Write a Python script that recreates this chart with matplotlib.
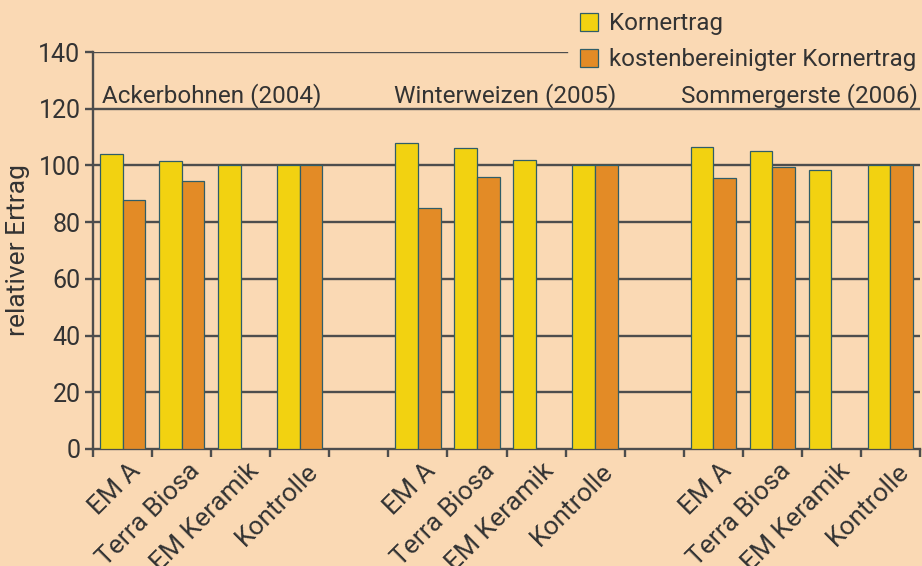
import matplotlib
matplotlib.use("Agg")
import matplotlib.pyplot as plt
from matplotlib.patches import Patch
import numpy as np

plt.rcParams["font.family"] = ["Roboto", "DejaVu Sans"]

groups = ["Ackerbohnen (2004)", "Winterweizen (2005)", "Sommergerste (2006)"]
treatments = ["EM A", "Terra Biosa", "EM Keramik", "Kontrolle"]
# Kornertrag per group (EM A, Terra Biosa, EM Keramik, Kontrolle)
korn = [
    [104.0, 101.7, 100.3, 100.0],
    [107.9, 106.1, 101.9, 100.0],
    [106.6, 105.2, 98.4, 100.0],
]
# kostenbereinigter Kornertrag (EM Keramik has none)
korn_kb = [
    [87.8, 94.4, None, 100.0],
    [85.0, 95.9, None, 100.0],
    [95.4, 99.3, None, 100.0],
]

bg = "#fad9b4"
yellow = "#f2d211"
orange = "#e38b26"
edge = "#2f5d68"
grey = "#4d4d4d"
txt = "#333333"

fig = plt.figure(figsize=(9.22, 5.66), dpi=100, facecolor=bg)
ax = fig.add_axes([93 / 922, 1 - 449 / 566, 827 / 922, 397 / 566], facecolor=bg)

w = 0.385
slot = 5  # 4 treatments + 1 gap slot per group
centers, labels = [], []
for g in range(len(groups)):
    for i, t in enumerate(treatments):
        c = g * slot + i + 0.5
        centers.append(c)
        labels.append(t)
        ax.bar(c - w / 2, korn[g][i], width=w, color=yellow, edgecolor=edge,
               linewidth=0.9, zorder=3)
        if korn_kb[g][i] is not None:
            ax.bar(c + w / 2, korn_kb[g][i], width=w, color=orange,
                   edgecolor=edge, linewidth=0.9, zorder=3)

# horizontal grid lines (top one is interrupted by the legend)
for yv in range(20, 140, 20):
    ax.axhline(yv, color=grey, lw=1.7, zorder=1)
ax.axhline(140, xmax=(567 - 93) / 827, color=grey, lw=1.7, zorder=1)

ax.set_xlim(0, 14)
ax.set_ylim(0, 140)
ax.set_yticks(range(0, 141, 20))
ax.set_xticks(range(0, 15))
ax.set_xticklabels([])
ax.set_xticks([c + 0.1 for c in centers], minor=True)
ax.set_xticklabels(labels, minor=True, rotation=45, ha="right", va="top",
                   rotation_mode="anchor", fontsize=19, color=txt)
ax.tick_params(axis="x", which="minor", length=0, pad=7)
ax.tick_params(axis="x", which="major", length=6, width=1.7, color=grey)
ax.tick_params(axis="y", length=6, width=1.7, color=grey, labelsize=18,
               labelcolor=txt, pad=3)

for s in ["top", "right"]:
    ax.spines[s].set_visible(False)
for s in ["left", "bottom"]:
    ax.spines[s].set_color(grey)
    ax.spines[s].set_linewidth(1.7)

ax.set_ylabel("relativer Ertrag", fontsize=19, color=txt, labelpad=6)

title_pos = [(0.15, "left"), (5.1, "left"), (13.97, "right")]
for name, (xp, ha) in zip(groups, title_pos):
    ax.text(xp, 122.3, name, ha=ha, va="baseline", fontsize=17.5, color=txt)

handles = [Patch(facecolor=yellow, edgecolor=edge, lw=0.9),
           Patch(facecolor=orange, edgecolor=edge, lw=0.9)]
fig.legend(handles, ["Kornertrag", "kostenbereinigter Kornertrag"],
           loc="upper left", bbox_to_anchor=(568 / 922, 1.0), frameon=False,
           fontsize=17.4, labelcolor=txt, handlelength=0.75, handleheight=0.75,
           handletextpad=0.45, labelspacing=0.55, borderaxespad=0.1)

fig.savefig("out.png", dpi=100, facecolor=bg)
